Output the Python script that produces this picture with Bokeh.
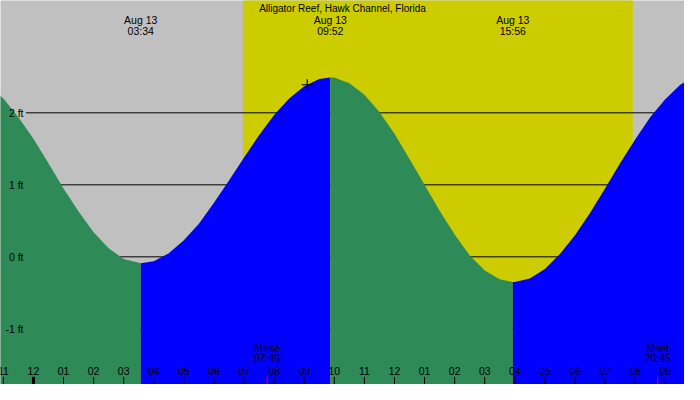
from bokeh.plotting import figure
from bokeh.core.properties import value
from bokeh.embed import file_html
from bokeh.resources import INLINE

# tide heights (ft), hours from midnight Aug 13
tide_hours = [-1.5, -1.0, -0.5, 0.0, 0.5, 1.0, 1.5, 2.0, 2.5, 3.0, 3.567,
              4.0, 4.5, 5.0, 5.5, 6.0, 6.5, 7.0, 7.5, 8.0, 8.5, 9.0, 9.5, 9.867,
              10.0, 10.5, 11.0, 11.5, 12.0, 12.5, 13.0, 13.5, 14.0, 14.5, 15.0, 15.5, 15.933,
              16.0, 16.5, 17.0, 17.5, 18.0, 18.5, 19.0, 19.5, 20.0, 20.5, 21.0, 21.5, 22.0]
tide_ft = [2.38, 2.20, 1.94, 1.64, 1.30, 0.95, 0.63, 0.34, 0.12, -0.03, -0.09,
           -0.06, 0.05, 0.23, 0.46, 0.75, 1.06, 1.38, 1.69, 1.97, 2.20, 2.37, 2.47, 2.49,
           2.49, 2.41, 2.25, 2.01, 1.71, 1.36, 1.00, 0.64, 0.31, 0.02, -0.19, -0.31, -0.35,
           -0.35, -0.30, -0.17, 0.04, 0.30, 0.61, 0.95, 1.30, 1.63, 1.94, 2.19, 2.39, 2.51]

# high / low tides
extreme_hours = [3.567, 9.867, 15.933]
extreme_dates = ["Aug 13", "Aug 13", "Aug 13"]
extreme_times = ["03:34", "09:52", "15:56"]

sunrise_hour = 6.96
sunset_hour = 19.92

moon_names = ["Mrise", "Mset"]
moon_hours = [7.767, 20.75]
moon_times = ["07:46", "20:45"]

now_hour = [9.1]
now_ft = [2.39]

tick_hours = list(range(-1, 22))
tick_labels = ["11", "12", "01", "02", "03", "04", "05", "06", "07", "08", "09", "10",
               "11", "12", "01", "02", "03", "04", "05", "06", "07", "08", "09"]

ft_levels = [-1, 0, 1, 2]
ft_labels = ["-1 ft", "0 ft", "1 ft", "2 ft"]

x0, x1 = -1.095, 21.64
y0, y1 = -1.773, 3.56
font = value("Liberation Sans")
fsize = "10.5px"

p = figure(width=684, height=384, x_range=(x0, x1), y_range=(y0, y1),
           output_backend="svg", toolbar_location=None, tools="",
           x_axis_location=None, y_axis_location=None, min_border=0)
p.grid.visible = False
p.outline_line_color = None
p.background_fill_color = "#C0C0C0"
p.border_fill_color = "#C0C0C0"

# daylight
p.quad(left=[sunrise_hour], right=[sunset_hour], bottom=[y0 - 1], top=[y1 + 1],
       fill_color="#CCCC00", line_color=None)

# ft lines
p.segment(x0=[-0.25] * len(ft_levels), x1=[x1 + 1] * len(ft_levels),
          y0=ft_levels, y1=ft_levels, line_color="black", line_width=1)

# tide fill, falling = green, rising = blue
bounds = [-99] + extreme_hours + [99]
colors = ["#2E8B57", "#0000FF", "#2E8B57", "#0000FF"]
for i in range(4):
    xs = [h for h in tide_hours if bounds[i] <= h <= bounds[i + 1]]
    ys = [f for h, f in zip(tide_hours, tide_ft) if bounds[i] <= h <= bounds[i + 1]]
    p.varea(x=xs, y1=y0 - 1, y2=ys, fill_color=colors[i])

p.scatter(now_hour, now_ft, marker="cross", size=11, line_color="black", line_width=1.2)

p.text(x=[-0.33] * len(ft_levels), y=ft_levels, text=ft_labels, text_align="right",
       text_baseline="middle", text_font=font, text_font_size=fsize, text_color="black")

# titles
p.text(x=[(x0 + x1) / 2], y=[3.455], text=["Alligator Reef, Hawk Channel, Florida"],
       text_align="center", text_baseline="middle", text_font=font,
       text_font_size="10px", text_color="black")
p.text(x=extreme_hours, y=[3.29] * 3, text=extreme_dates, text_align="center",
       text_baseline="middle", text_font=font, text_font_size=fsize, text_color="black")
p.text(x=extreme_hours, y=[3.135] * 3, text=extreme_times, text_align="center",
       text_baseline="middle", text_font=font, text_font_size=fsize, text_color="black")

# hour ticks
widths = [3 if lab == "12" and h == 0 else 1 for h, lab in zip(tick_hours, tick_labels)]
p.segment(x0=tick_hours, x1=tick_hours, y0=[-1.667] * len(tick_hours),
          y1=[y0 - 0.2] * len(tick_hours), line_color="black", line_width=widths)
p.text(x=tick_hours, y=[-1.585] * len(tick_hours), text=tick_labels, text_align="center",
       text_baseline="middle", text_font=font, text_font_size=fsize, text_color="black")

# moon
p.segment(x0=moon_hours, x1=moon_hours, y0=[-1.667] * 2, y1=[y0 - 0.2] * 2,
          line_color="red", line_width=1)
p.text(x=moon_hours, y=[-1.265] * 2, text=moon_names, text_align="center",
       text_baseline="middle", text_font=font, text_font_size=fsize, text_color="black")
p.text(x=moon_hours, y=[-1.41] * 2, text=moon_times, text_align="center",
       text_baseline="middle", text_font=font, text_font_size=fsize, text_color="black")

open("out.html", "w").write(file_html(p, INLINE))
